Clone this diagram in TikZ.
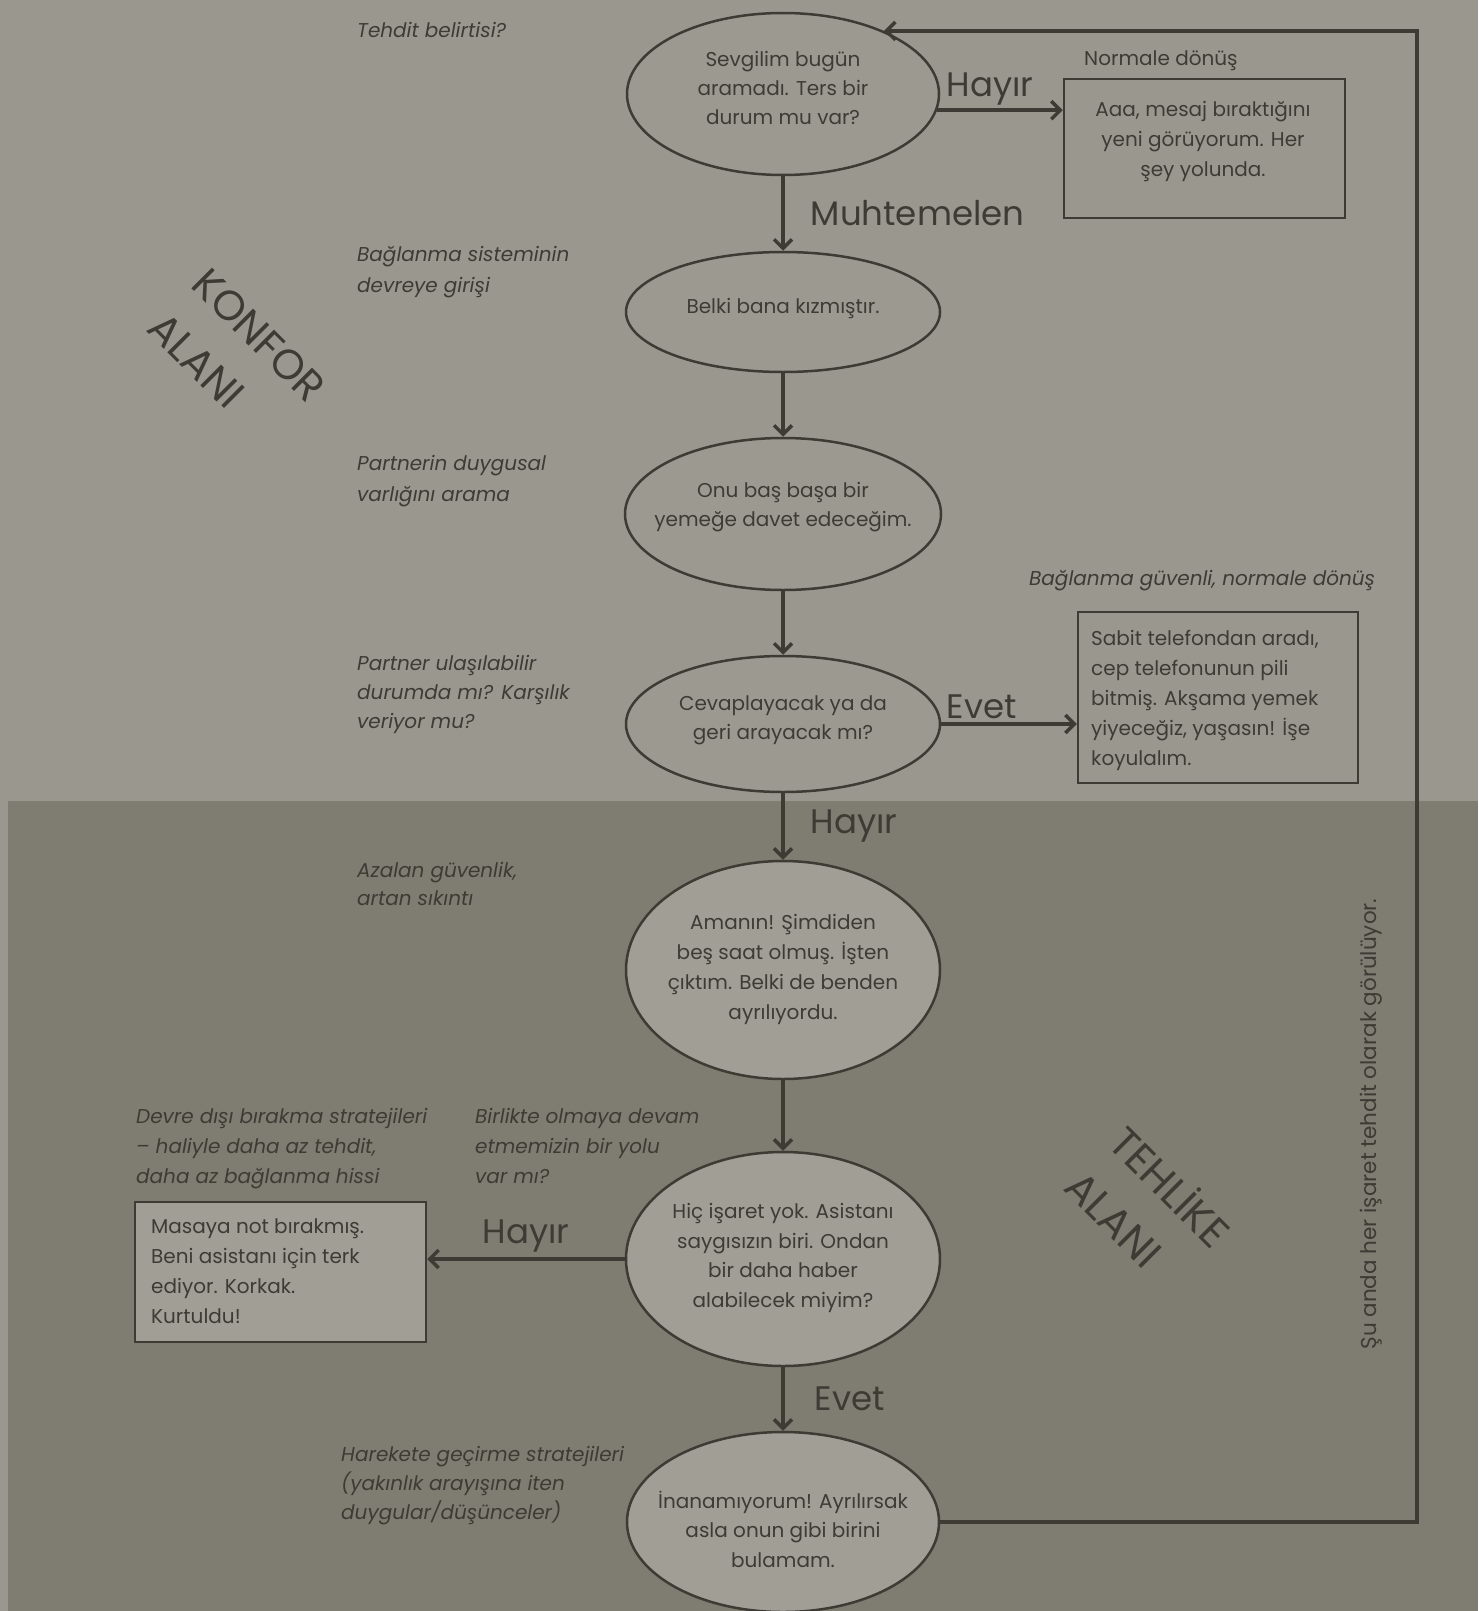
\documentclass[tikz,border=0pt]{standalone}
\usepackage{fontspec}
\setmainfont{Poppins}
\usetikzlibrary{shapes.geometric,arrows.meta}
\definecolor{bgL}{HTML}{9A988E}
\definecolor{bgD}{HTML}{7F7D72}
\definecolor{fillU}{HTML}{9C9A90}
\definecolor{fillD}{HTML}{A09E95}
\definecolor{ink}{HTML}{3D3B34}
\begin{document}
\begin{tikzpicture}[x=1pt,y=-1pt,
  ell/.style={ellipse,draw=ink,line width=2.5pt,inner sep=0pt},
  etxt/.style={text=ink,align=center,inner sep=0pt,font=\fontsize{20}{29}\selectfont},
  box/.style={rectangle,draw=ink,line width=2.5pt,inner sep=0pt},
  btxt/.style={text=ink,inner sep=0pt,font=\fontsize{20}{30}\selectfont},
  note/.style={text=ink,align=left,inner sep=0pt,anchor=north west,font=\fontsize{20}{30}\selectfont\itshape},
  big/.style={text=ink,inner sep=0pt,font=\fontsize{34}{40}\selectfont},
  zone/.style={text=ink,align=left,inner sep=0pt,rotate=-45,font=\fontsize{42}{62}\selectfont},
  arr/.style={draw=ink,line width=3.5pt,-{Straight Barb[length=9pt,width=18pt]}}
]
\useasboundingbox (0,0) rectangle (1478,1611);
\fill[bgL] (0,0) rectangle (1478,1611);
\fill[bgD] (8,801) rectangle (1478,1611);

% ellipses
\node[ell,fill=fillU,minimum width=312pt,minimum height=162pt] (e1) at (783,94) {};
\node[ell,fill=fillU,minimum width=314pt,minimum height=120pt] (e2) at (783,312) {};
\node[ell,fill=fillU,minimum width=316pt,minimum height=152pt] (e3) at (783,514) {};
\node[ell,fill=fillU,minimum width=314pt,minimum height=136pt] (e4) at (783,724) {};
\node[ell,fill=fillD,minimum width=314pt,minimum height=218pt] (e5) at (783,970) {};
\node[ell,fill=fillD,minimum width=314pt,minimum height=214pt] (e6) at (783,1259) {};
\node[ell,fill=fillD,minimum width=312pt,minimum height=180pt] (e7) at (783,1522) {};

\node[etxt] (e1t) at (783,88) {Sevgilim bugün\\aramadı. Ters bir\\durum mu var?};
\node[etxt] (e2t) at (783,308) {Belki bana kızmıştır.};
\node[etxt] (e3t) at (783,507) {Onu baş başa bir\\yemeğe davet edeceğim.};
\node[etxt] (e4t) at (783,720) {Cevaplayacak ya da\\geri arayacak mı?};
\node[etxt,font=\fontsize{20}{30}\selectfont] (e5t) at (783,969) {Amanın! Şimdiden\\beş saat olmuş. İşten\\çıktım. Belki de benden\\ayrılıyordu.};
\node[etxt,font=\fontsize{20}{29.5}\selectfont] (e6t) at (783,1258) {Hiç işaret yok. Asistanı\\saygısızın biri. Ondan\\bir daha haber\\alabilecek miyim?};
\node[etxt,font=\fontsize{20}{29.5}\selectfont] (e7t) at (783,1529) {İnanamıyorum! Ayrılırsak\\asla onun gibi birini\\bulamam.};

% boxes
\node[box,minimum width=281pt,minimum height=139pt] (bA) at (1204.5,148.5) {};
\node[btxt,align=center] (bAt) at (1203,141) {Aaa, mesaj bıraktığını\\yeni görüyorum. Her\\şey yolunda.};
\node[box,minimum width=280pt,minimum height=171pt] (bB) at (1218,697.5) {};
\node[btxt,align=left,anchor=north west] (bBt) at (1091,630) {Sabit telefondan aradı,\\cep telefonunun pili\\bitmiş. Akşama yemek\\yiyeceğiz, yaşasın! İşe\\koyulalım.};
\node[box,fill=fillD,minimum width=291pt,minimum height=140pt] (bC) at (280.5,1272) {};
\node[btxt,align=left,anchor=north west] (bCt) at (151,1218) {Masaya not bırakmış.\\Beni asistanı için terk\\ediyor. Korkak.\\Kurtuldu!};

% connectors
\draw[arr] (e1.-6) -- (e1.-6 -| bA.west) node[pos=0.42,above=3pt,big] (l1) {Hayır};
\draw[arr] (e1.south) -- (e2.north) node[midway,right=26pt,big] (l2) {Muhtemelen};
\draw[arr] (e2.south) -- (e3.north);
\draw[arr] (e3.south) -- (e4.north);
\draw[arr] (e4.east) -- (e4.east -| bB.west) node[pos=0.3,above=3pt,big] (l3) {Evet};
\draw[arr] (e4.south) -- (e5.north) node[midway,right=26pt,big] (l4) {Hayır};
\draw[arr] (e5.south) -- (e6.north);
\draw[arr] (e6.west) -- (e6.west -| bC.east) node[midway,above=5pt,big] (l5) {Hayır};
\draw[arr] (e6.south) -- (e7.north) node[midway,right=30pt,big] (l6) {Evet};
\coordinate (fbR) at (1417,800);
\draw[arr] (e7.east) -- (e7.east -| fbR) -- (fbR |- e1.32) -- (e1.32);

% notes
\node[note] (n1) at (357,22) {Tehdit belirtisi?};
\node[note,font=\fontsize{20}{30}\selectfont] (n2) at (1084,51) {Normale dönüş};
\node[note,font=\fontsize{20}{31}\selectfont\itshape] (n3) at (357,246) {Bağlanma sisteminin\\devreye girişi};
\node[note,font=\fontsize{20}{31}\selectfont\itshape] (n4) at (357,455) {Partnerin duygusal\\varlığını arama};
\node[note,font=\fontsize{20}{29}\selectfont\itshape] (n5) at (357,655) {Partner ulaşılabilir\\durumda mı? Karşılık\\veriyor mu?};
\node[note] (n6) at (1029,570) {Bağlanma güvenli, normale dönüş};
\node[note,font=\fontsize{20}{28}\selectfont\itshape] (n7) at (357,862) {Azalan güvenlik,\\artan sıkıntı};
\node[note] (n8) at (136,1108) {Devre dışı bırakma stratejileri\\– haliyle daha az tehdit,\\daha az bağlanma hissi};
\node[note] (n9) at (475,1108) {Birlikte olmaya devam\\etmemizin bir yolu\\var mı?};
\node[note,font=\fontsize{20}{29}\selectfont\itshape] (n10) at (341,1446) {Harekete geçirme stratejileri\\(yakınlık arayışına iten\\duygular/düşünceler)};

% zones
\node[zone] (z1) at (237,357) {KONFOR\\ALANI};
\node[zone] (z2) at (1150,1207) {TEHLİKE\\ALANI};
\node[text=ink,inner sep=0pt,rotate=90,font=\fontsize{21.5}{24}\selectfont] (vt) at (1371,1124) {Şu anda her işaret tehdit olarak görülüyor.};
\end{tikzpicture}
\end{document}
